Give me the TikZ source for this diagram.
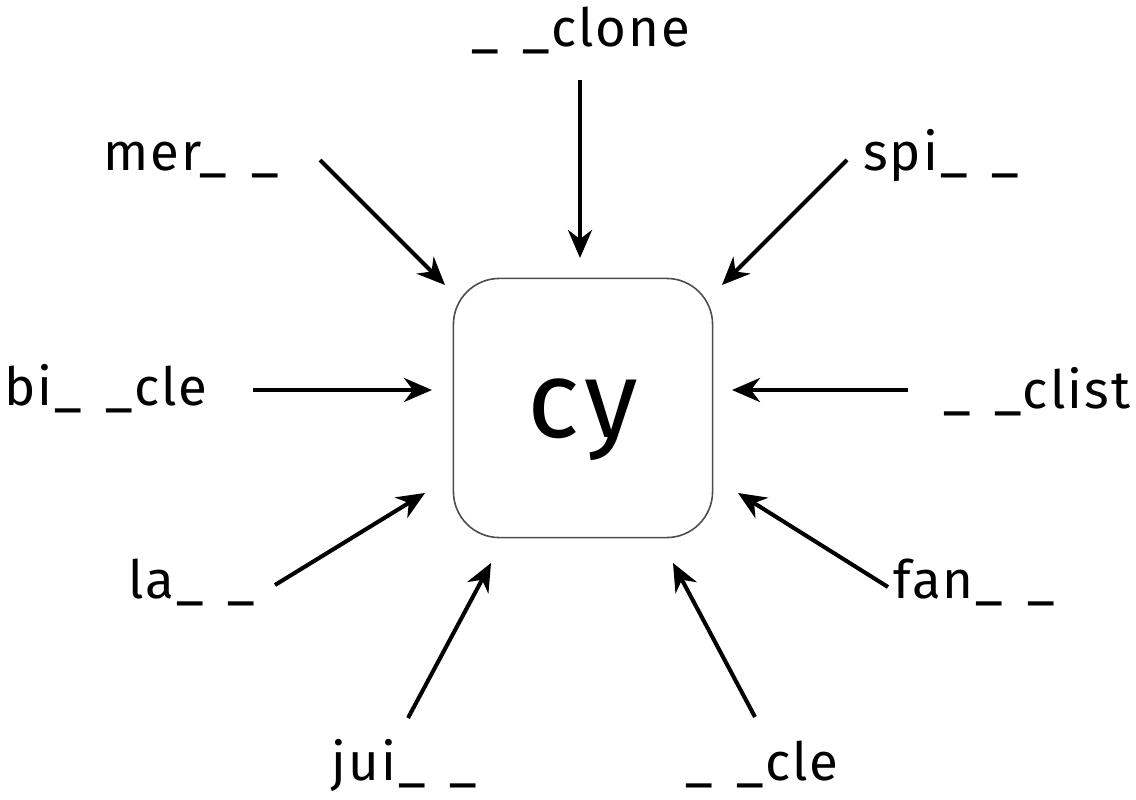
\documentclass[tikz,border=0pt]{standalone}
\usepackage{fontspec}
\setmainfont[LetterSpace=4]{Fira Sans}
\usetikzlibrary{arrows.meta}
\newcommand{\gap}{\_\hspace{0.45em}\_}

\begin{document}
\begin{tikzpicture} [x=0.01cm, y=-0.01cm]
\tikzstyle{every node}=[font=\fontsize{15}{18}\selectfont, inner sep=0pt, anchor=base];
\tikzstyle{arr}=[-{Stealth[length=2.8mm, width=2.4mm, inset=0.9mm]}, line width=1.15pt];
\useasboundingbox (0,0) rectangle (1136,800);
% centre box
\node[draw=black!70, line width=0.45pt, rounded corners=4.6mm, minimum size=2.59cm,
  text depth=0pt, anchor=center, font=\fontsize{31}{36}\selectfont] (cy) at (583,408) {cy};
% words
\node (clone) at (581, 47) {\gap clone};
\node (mer) at (191, 170) {mer\gap};
\node (spi) at (941, 170) {spi\gap};
\node (bi) at (106, 405) {bi\gap cle};
\node (clist) at (1037, 408) {\gap clist};
\node (la) at (192, 598) {la\gap};
\node (fan) at (974, 598) {fan\gap};
\node (jui) at (404, 780) {jui\gap};
\node (cle) at (762, 780) {\gap cle};
% arrow ends
\coordinate (a0) at (580, 80);  \coordinate (b0) at (580, 258);
\coordinate (a1) at (320, 160); \coordinate (b1) at (445, 285);
\coordinate (a2) at (847, 160); \coordinate (b2) at (722, 285);
\coordinate (a3) at (253, 390); \coordinate (b3) at (432, 390);
\coordinate (a4) at (908, 390); \coordinate (b4) at (732, 390);
\coordinate (a5) at (275, 585); \coordinate (b5) at (425, 493);
\coordinate (a6) at (888, 587); \coordinate (b6) at (738, 493);
\coordinate (a7) at (408, 718); \coordinate (b7) at (491, 563);
\coordinate (a8) at (755, 717); \coordinate (b8) at (673, 563);
\foreach \i in {0,...,8}
  \draw[arr] (a\i) -- (b\i);
\end{tikzpicture}
\end{document}
